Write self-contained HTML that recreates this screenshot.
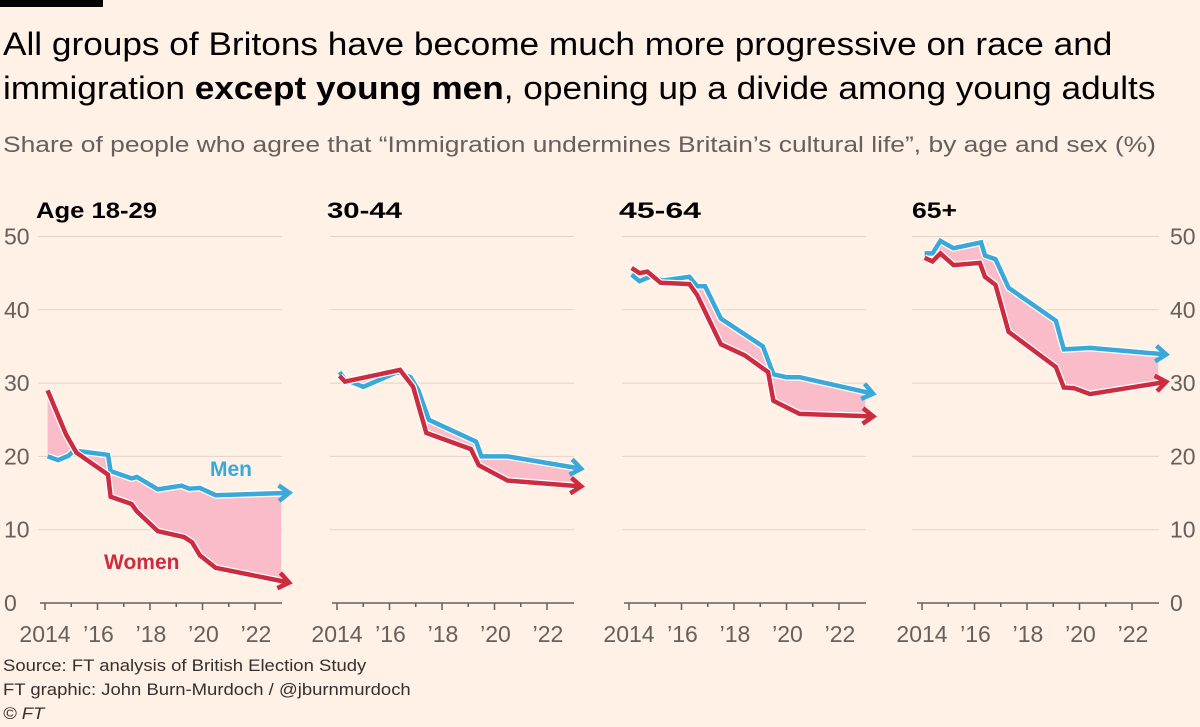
<!DOCTYPE html>
<html><head><meta charset="utf-8">
<style>
body{margin:0;background:#fff1e5;font-family:"Liberation Sans",sans-serif;}
#wrap{position:relative;width:1200px;height:727px;overflow:hidden;background:#fff1e5;}
.t{position:absolute;white-space:nowrap;transform-origin:0 0;}
</style></head><body>
<div id="wrap">
<div style="position:absolute;left:0;top:0;width:103px;height:7px;background:#000"></div>
<div class="t" style="left:3px;top:22px;font-size:32px;color:#000;line-height:44px;transform:scaleX(1.1)">All groups of Britons have become much more progressive on race and<br>immigration <b>except young men</b>, opening up a divide among young adults</div>
<div class="t" style="left:3px;top:132px;font-size:22px;color:#66605c;transform:scaleX(1.2)">Share of people who agree that “Immigration undermines Britain’s cultural life”, by age and sex (%)</div>
<svg id="svg" width="1200" height="727" style="position:absolute;left:0;top:0"></svg>
<div class="t" style="left:3px;top:654px;font-size:16.5px;color:#33302e;line-height:24px;transform:scaleX(1.12)">Source: FT analysis of British Election Study<br>FT graphic: John Burn-Murdoch / @jburnmurdoch<br><i>© FT</i></div>
</div>
<script>
const panelTitles = ["Age 18-29","30-44","45-64","65+"];
const yTicks = [0,10,20,30,40,50];
const xTickYears = [2014,2016,2018,2020,2022];
const xTickLabels = ["2014","’16","’18","’20","’22"];
const men1829 = [[2014.1,20],[2014.5,19.5],[2014.9,20.1],[2015.1,20.8],[2016.4,20.2],[2016.5,18],[2017.3,17],[2017.5,17.2],[2018.3,15.5],[2019.2,16],[2019.5,15.6],[2019.9,15.7],[2020.5,14.7],[2023,15]];
const women1829 = [[2014.1,29],[2014.8,23],[2015.2,20.5],[2016.4,17.5],[2016.5,14.5],[2017.3,13.5],[2017.5,12.5],[2018.3,9.8],[2019.3,9.0],[2019.6,8.3],[2019.9,6.5],[2020.5,4.8],[2023,3]];
const men3044 = [[2014.1,31.5],[2014.3,30.5],[2015.0,29.5],[2016.3,31.5],[2016.8,30.8],[2017.1,29],[2017.5,25],[2019.3,22],[2019.5,20],[2020.5,20],[2023,18.5]];
const women3044 = [[2014.1,31],[2014.3,30.2],[2015.1,30.8],[2016.4,31.8],[2016.9,29.5],[2017.4,23.2],[2019.1,21],[2019.4,18.8],[2020.5,16.7],[2023,16]];
const men4564 = [[2014.1,44.8],[2014.4,43.9],[2014.8,44.5],[2015.3,44],[2016.3,44.5],[2016.6,43.2],[2016.9,43.2],[2017.5,38.8],[2019.1,35],[2019.5,31.2],[2020.0,30.8],[2020.5,30.8],[2023,28.8]];
const women4564 = [[2014.1,45.7],[2014.4,45],[2014.7,45.2],[2015.2,43.7],[2016.3,43.5],[2016.6,42],[2017.5,35.3],[2018.4,33.8],[2019.3,31.5],[2019.5,27.6],[2020.5,25.8],[2023,25.5]];
const men65 = [[2014.1,47.7],[2014.4,47.7],[2014.7,49.4],[2015.2,48.4],[2016.25,49.2],[2016.4,47.4],[2016.8,46.9],[2017.3,43],[2019.1,38.5],[2019.4,34.6],[2020.4,34.8],[2023,34]];
const women65 = [[2014.1,47.1],[2014.4,46.6],[2014.7,47.7],[2015.2,46.1],[2016.2,46.4],[2016.4,44.5],[2016.8,43.4],[2017.3,37],[2019.1,32.2],[2019.4,29.4],[2019.8,29.3],[2020.4,28.5],[2023,30]];
const menSeries = [men1829,men3044,men4564,men65];
const womenSeries = [women1829,women3044,women4564,women65];

const NS="http://www.w3.org/2000/svg";
const svg=document.getElementById('svg');
const panelOffsets=[0,292,584,877];
function yS(v){return 603-v*7.33;}
function mk(tag,attrs,parent){const e=document.createElementNS(NS,tag);for(const k in attrs)e.setAttribute(k,attrs[k]);(parent||svg).appendChild(e);return e;}
const MEN="#3aa8d8", WOMEN="#cc2b40";
panelTitles.forEach((title,p)=>{
  const off=panelOffsets[p];
  const xS=y=>off+45+(y-2014)*26.25;
  const g=mk('g',{});
  
  
  const gl0=p===3?off+35:off+38, gl1=off+282;
  yTicks.forEach(v=>{
    if(v>0){const l=mk('line',{x1:gl0,x2:gl1,y1:yS(v),y2:yS(v),stroke:'#e0d4c9','stroke-width':1},g);
      
      }
  });
  const ax=mk('line',{x1:off+40,x2:off+282,y1:603,y2:603,stroke:'#66605c','stroke-width':1.5},g);
  
  
  for(let yr=2014;yr<=2022;yr++){mk('line',{x1:xS(yr),x2:xS(yr),y1:603,y2:yr%2===0?610:607,stroke:'#66605c','stroke-width':1.5},g);}
  xTickYears.forEach((yr,i)=>{const t=mk('text',{x:xS(yr)+(i===0?0:1),y:642,'text-anchor':'middle','font-size':23,fill:'#66605c','font-family':'Liberation Sans'},g);t.textContent=xTickLabels[i];
    
    });
  const tt=mk('text',{x:p===0?36:off+35,y:218,'font-size':22,'font-weight':'bold',fill:'#000','font-family':'Liberation Sans'},g);
  tt.textContent=title;
  tt.setAttribute('textLength',[121,75,82,45][p]);
  tt.setAttribute('lengthAdjust','spacingAndGlyphs');
  
  
  const men=menSeries[p], women=womenSeries[p];
  const pts=a=>a.map(d=>xS(d[0]).toFixed(1)+','+yS(d[1]).toFixed(1));
  const area=mk('polygon',{points:pts(men).concat(pts(women).reverse()).join(' '),fill:'#fbbcca'},g);
  
  
  [[men,MEN,'men-line'],[women,WOMEN,'women-line']].forEach(([s,c,nm])=>{
    const last=s[s.length-1], prev=s[s.length-2];
    const x1=xS(last[0]),y1=yS(last[1]),x0=xS(prev[0]),y0=yS(prev[1]);
    const ang=Math.atan2(y1-y0,x1-x0);
    const tx=x1+8*Math.cos(ang), ty=y1+8*Math.sin(ang);
    const all=pts(s).concat([tx.toFixed(1)+','+ty.toFixed(1)]);
    mk('polyline',{points:all.join(' '),fill:'none',stroke:'#fff','stroke-width':7,'stroke-linejoin':'round'},g);
    const pl=mk('polyline',{points:all.join(' '),fill:'none',stroke:c,'stroke-width':4.5,'stroke-linejoin':'miter'},g);
    
    
    const a1=ang+2.5,a2=ang-2.5;
    const ah=mk('polyline',{points:`${tx+13*Math.cos(a1)},${ty+13*Math.sin(a1)} ${tx},${ty} ${tx+13*Math.cos(a2)},${ty+13*Math.sin(a2)}`,fill:'none',stroke:c,'stroke-width':4.5},g);
    
    
  });
  if(p===0||p===3){
    yTicks.forEach(v=>{const t=mk('text',{x:p===0?4:1170,y:yS(v)+8,'font-size':23,fill:'#66605c','font-family':'Liberation Sans'},g);t.textContent=v;
      
      });
  }
});
const lm=mk('text',{x:210,y:476,'font-size':21,'font-weight':'bold',fill:MEN,'font-family':'Liberation Sans'});lm.textContent='Men';


const lw=mk('text',{x:104,y:569,'font-size':21,'font-weight':'bold',fill:WOMEN,'font-family':'Liberation Sans'});lw.textContent='Women';


</script>
</body></html>
